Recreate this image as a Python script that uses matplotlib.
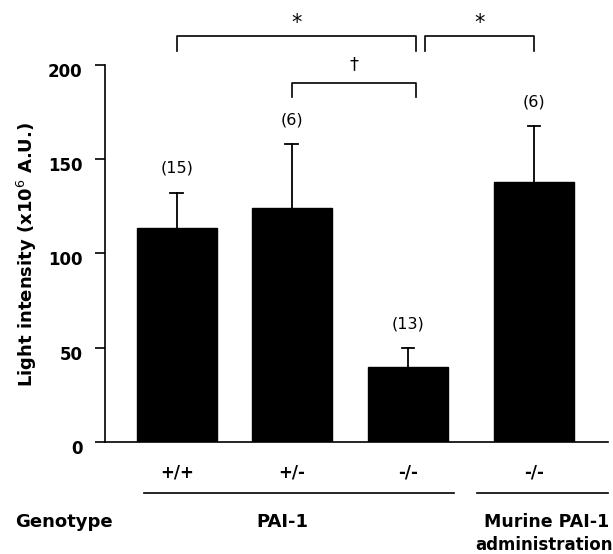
import matplotlib.pyplot as plt
import matplotlib.transforms as mtransforms
import numpy as np

plt.rcParams['font.family'] = ['DejaVu Sans']

genotypes = ['+/+', '+/-', '-/-', '-/-']
means = [113.5, 124.0, 39.6, 137.8]
sems = [18.8, 33.9, 10.1, 29.8]
n_labels = ['(15)', '(6)', '(13)', '(6)']
yticks = [0, 50, 100, 150, 200]

xpos = np.array([0, 0.995, 2.0, 3.09])
bw = 0.69

fig = plt.figure(figsize=(6.13, 5.54), dpi=100)
ax = fig.add_axes([0.171, 0.2022, 0.8206, 0.6805])

ax.bar(xpos, means, width=bw, color='black', edgecolor='black', zorder=2)
for x, m, s in zip(xpos, means, sems):
    ax.plot([x, x], [m, m + s], color='black', lw=1.3, zorder=1)
    ax.plot([x - 0.055, x + 0.055], [m + s, m + s], color='black', lw=1.3)

for x, m, s, lab in zip(xpos, means, sems, n_labels):
    ax.text(x, m + s + 9, lab, ha='center', va='bottom', fontsize=11.5)

ax.set_xlim(-0.623, 3.73)
ax.set_ylim(0, 200)
ax.set_yticks(yticks)
ax.set_yticklabels([str(t) for t in yticks], fontsize=12, fontweight='bold')
ax.tick_params(axis='y', direction='out', length=7, width=1.2, pad=9)
# labels in the original sit a bit below their ticks
shift = mtransforms.ScaledTranslation(0, -0.05, fig.dpi_scale_trans)
for lab in ax.get_yticklabels():
    lab.set_transform(lab.get_transform() + shift)
ax.set_xticks([])
for sp in ['top', 'right']:
    ax.spines[sp].set_visible(False)
ax.spines['left'].set_linewidth(1.2)
ax.spines['bottom'].set_linewidth(1.2)
fig.text(27 / 613, 1 - 254 / 554, 'Light intensity (x10$^{6}$ A.U.)', rotation=90,
         ha='center', va='center', fontsize=13, fontweight='bold')


def bracket(x0, x1, ytop, ybot, label, ylab, fs):
    ax.plot([x0, x0, x1, x1], [ybot, ytop, ytop, ybot], color='black', lw=1.2, clip_on=False)
    ax.text((x0 + x1) / 2, ylab, label, ha='center', va='center', fontsize=fs)


bracket(xpos[0], 2.07, 215.5, 207.5, '*', 222.5, 15)
bracket(2.15, xpos[3], 215.5, 207.5, '*', 222.5, 15)
bracket(xpos[1], 2.07, 190.5, 183.0, '\u2020', 200.5, 13)

# labels under the bars
for x, g in zip(xpos, genotypes):
    ax.text(x, -16, g, ha='center', va='center', fontsize=12, fontweight='bold', clip_on=False)

ax.plot([-0.28, 2.4], [-27, -27], color='black', lw=1.2, clip_on=False)
ax.plot([2.6, 3.73], [-27, -27], color='black', lw=1.2, clip_on=False)

fig.text(64 / 613, 1 - 522 / 554, 'Genotype', ha='center', va='center', fontsize=13, fontweight='bold')
fig.text(282 / 613, 1 - 522 / 554, 'PAI-1', ha='center', va='center', fontsize=13, fontweight='bold')
fig.text(484 / 613, 1 - 522 / 554, 'Murine PAI-1', ha='left', va='center', fontsize=12.5, fontweight='bold')
fig.text(475 / 613, 1 - 545 / 554, 'administration', ha='left', va='center', fontsize=12, fontweight='bold')

fig.savefig('out.png', dpi=100)
